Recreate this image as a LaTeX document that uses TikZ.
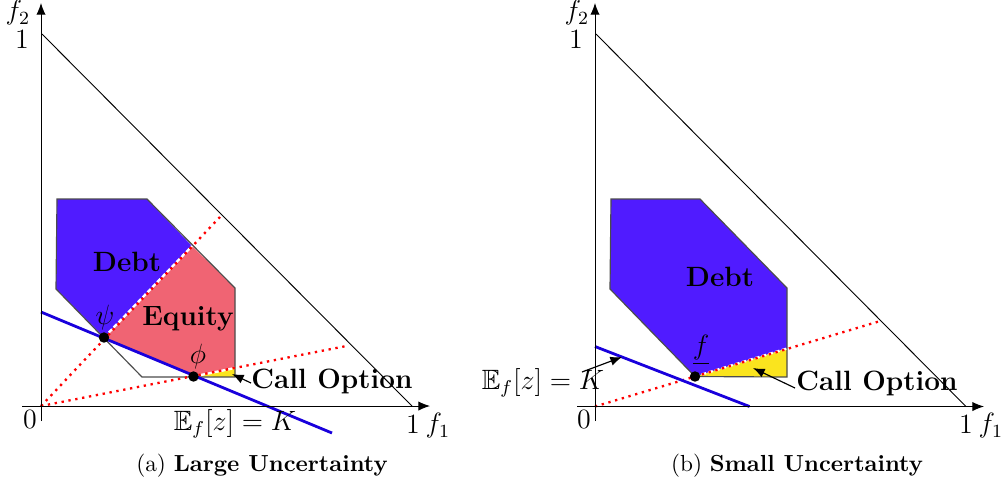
\documentclass[tikz,border=0pt]{standalone}
\usepackage{amssymb}
\usetikzlibrary{arrows.meta}
\definecolor{debtblue}{RGB}{80,27,255}
\definecolor{eqpink}{RGB}{240,100,115}
\definecolor{callyellow}{RGB}{250,228,30}
\definecolor{kblue}{RGB}{25,0,220}
\begin{document}
\begin{tikzpicture}[x=0.43pt,y=-0.43pt,
 axis/.style={line width=0.4pt,-{Latex[length=5pt,width=4pt]}},
 budget/.style={line width=0.4pt},
 region/.style={draw=black!70,line width=0.5pt},
 ray/.style={red,line width=1pt,dash pattern=on 1pt off 2pt},
 split/.style={white,line width=1pt,dash pattern=on 2pt off 1pt},
 kline/.style={kblue,line width=1.2pt},
 lab/.style={font=\large,inner sep=0pt},
 blab/.style={font=\large\bfseries,inner sep=1pt},
 dotpt/.style={circle,fill=black,inner sep=0pt,minimum size=4.5pt},
 note/.style={-{Latex[length=5pt,width=4pt]},line width=0.5pt}]
\useasboundingbox (0,0) rectangle (1006,486);
% ---------------- left panel ----------------
\coordinate (O1) at (41,406);
\coordinate (Y1t) at (41,3);
\coordinate (Y1b) at (41,421);
\coordinate (X1l) at (22,406);
\coordinate (X1r) at (430,406);
\coordinate (T1a) at (42,34);
\coordinate (T1b) at (412,406);
\coordinate (P1) at (57,199);
\coordinate (P2) at (147,199);
\coordinate (P3) at (235,288);
\coordinate (P4) at (235,377);
\coordinate (P5) at (142,377);
\coordinate (P6) at (56,289);
\coordinate (psi) at (104,337.5);
\coordinate (D1) at (192,246);
\coordinate (R1) at (220,217);
\coordinate (phi) at (193.5,376.5);
\coordinate (C1) at (235,368);
\coordinate (R2) at (349,345.5);
\coordinate (K1a) at (41,312);
\coordinate (K1b) at (332,433);

\fill[debtblue] (P1) -- (P2) -- (D1) -- (psi) -- (P6) -- cycle;
\fill[eqpink] (psi) -- (D1) -- (P3) -- (C1) -- (phi) -- cycle;
\fill[callyellow] (phi) -- (P4) -- (C1) -- cycle;
\draw[region] (P1) -- (P2) -- (P3) -- (P4) -- (P5) -- (P6) -- cycle;
\draw[budget] (T1a) -- (T1b);
\draw[split] (psi) -- (D1);
\draw[split] (phi) -- (C1);
\draw[ray] (O1) -- (R1);
\draw[ray] (O1) -- (R2);
\draw[kline] (K1a) -- (K1b);
\draw[axis] (Y1b) -- (Y1t);
\draw[axis] (X1l) -- (X1r);
\node[dotpt] (psidot) at (psi) {};
\node[dotpt] (phidot) at (phi) {};
\node[lab] (psil) at (105,318) {$\psi$};
\node[lab] (phil) at (198,357) {$\phi$};
\node[blab] (debt1) at (127,262) {Debt};
\node[blab] (eq1) at (188,319) {Equity};
\node[blab] (call1) at (332,381) {Call Option};
\coordinate (call1tip) at (232,374);
\coordinate (call1tail) at (251,383);
\draw[note] (call1tail) -- (call1tip);
\node[lab] (ek1) at (235,424) {$\mathbb{E}_f[z] = K$};
\node[lab] (f2a) at (18,13) {$f_2$};
\node[lab] (one1y) at (22,39) {$1$};
\node[lab] (zero1) at (30,419) {$0$};
\node[lab] (one1x) at (413,424) {$1$};
\node[lab] (f1a) at (438,426) {$f_1$};
\node (capa) at (262,466) {(a) \textbf{Large Uncertainty}};
% ---------------- right panel ----------------
\coordinate (O2) at (595,406.5);
\coordinate (Y2t) at (595,3);
\coordinate (Y2b) at (595,421);
\coordinate (X2l) at (577,406.5);
\coordinate (X2r) at (984,406.5);
\coordinate (T2a) at (596,34);
\coordinate (T2b) at (966,406.5);
\coordinate (Q1) at (611,199);
\coordinate (Q2) at (700,199);
\coordinate (Q3) at (787,288);
\coordinate (Q4) at (787,377);
\coordinate (fp) at (695,376.5);
\coordinate (Q6) at (610,289);
\coordinate (C2) at (787,348.5);
\coordinate (R3) at (882,320.5);
\coordinate (K2a) at (595,346.5);
\coordinate (K2b) at (749.5,406.5);

\fill[debtblue] (Q1) -- (Q2) -- (Q3) -- (C2) -- (fp) -- (Q6) -- cycle;
\fill[callyellow] (fp) -- (Q4) -- (C2) -- cycle;
\draw[region] (Q1) -- (Q2) -- (Q3) -- (Q4) -- (fp) -- (Q6) -- cycle;
\draw[budget] (T2a) -- (T2b);
\draw[split] (fp) -- (C2);
\draw[ray] (O2) -- (R3);
\draw[kline] (K2a) -- (K2b);
\draw[axis] (Y2b) -- (Y2t);
\draw[axis] (X2l) -- (X2r);
\node[dotpt] (fdot) at (fp) {};
\node[lab] (fl) at (701,350) {$\underline{f}$};
\node[blab] (debt2) at (720,277) {Debt};
\node[blab] (call2) at (877,383) {Call Option};
\coordinate (call2tip) at (753,368);
\coordinate (call2tail) at (795,388);
\draw[note] (call2tail) -- (call2tip);
\node[lab] (ek2) at (543,383) {$\mathbb{E}_f[z] = K$};
\coordinate (ek2tail) at (582,372);
\coordinate (ek2tip) at (622,357);
\draw[note] (ek2tail) -- (ek2tip);
\node[lab] (f2b) at (577,13) {$f_2$};
\node[lab] (one2y) at (576,39) {$1$};
\node[lab] (zero2) at (584,419) {$0$};
\node[lab] (one2x) at (966,424) {$1$};
\node[lab] (f1b) at (991,426) {$f_1$};
\node (capb) at (797,466) {(b) \textbf{Small Uncertainty}};
\end{tikzpicture}
\end{document}
